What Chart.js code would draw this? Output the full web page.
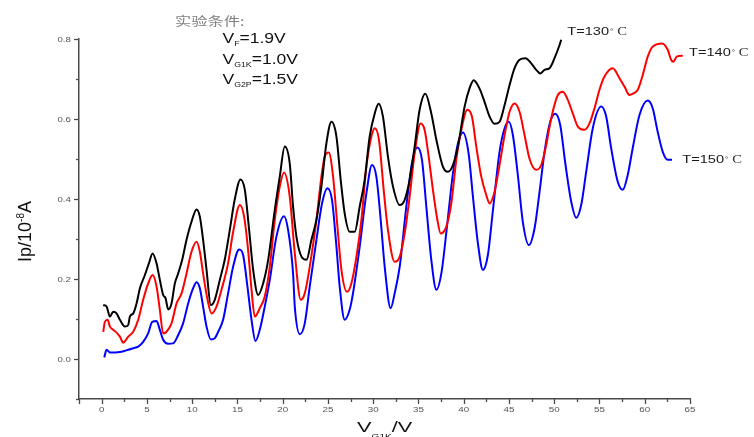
<!DOCTYPE html>
<html>
<head>
<meta charset="utf-8">
<script src="https://cdn.jsdelivr.net/npm/chart.js@4/dist/chart.umd.min.js"></script>
<style>
  html, body { margin: 0; padding: 0; background: #fff; }
  #wrap { width: 754px; height: 437px; }
</style>
</head>
<body>
<div id="wrap"><canvas id="c" width="754" height="437"></canvas></div>
<script>
// Plate current Ip (10^-8 A) against accelerating voltage V_G1K (V), three oven temperatures.
const curve130 = [
  [0.18,0.135],[0.55,0.131],[0.92,0.106],[1.28,0.118],[1.65,0.114],[2.02,0.098],[2.57,0.081],[2.94,0.085],
  [3.12,0.106],[3.49,0.114],[3.86,0.139],[4.23,0.177],[4.78,0.21],[5.22,0.239],[5.63,0.264],[6.07,0.239],
  [6.43,0.198],[6.8,0.16],[7.06,0.152],[7.36,0.124],[7.72,0.139],[8.09,0.189],[8.46,0.214],[8.9,0.248],
  [9.38,0.298],[9.93,0.343],[10.49,0.374],[10.85,0.356],[11.21,0.298],[11.59,0.223],[12.06,0.135],[12.5,0.148],
  [13.06,0.198],[13.6,0.248],[14.16,0.323],[14.7,0.398],[15.34,0.449],[15.82,0.423],[16.26,0.331],[16.74,0.223],
  [17.29,0.16],[17.84,0.189],[18.4,0.248],[19.13,0.373],[19.68,0.456],[20.23,0.531],[20.78,0.489],[21.15,0.381],
  [21.52,0.306],[22.08,0.256],[22.63,0.248],[23.18,0.298],[23.73,0.348],[24.28,0.431],[24.83,0.539],[25.39,0.593],
  [25.94,0.556],[26.41,0.448],[26.85,0.364],[27.4,0.318],[27.96,0.318],[28.51,0.381],[29.06,0.448],[29.61,0.556],
  [30.17,0.614],[30.6,0.638],[31.08,0.606],[31.63,0.506],[32.19,0.431],[32.93,0.385],[33.48,0.398],[34.03,0.448],
  [34.58,0.531],[35.13,0.623],[35.76,0.663],[36.42,0.614],[36.98,0.548],[37.7,0.481],[38.26,0.468],[38.81,0.485],
  [39.36,0.531],[40.1,0.631],[40.65,0.677],[41.1,0.697],[41.75,0.676],[42.3,0.643],[42.86,0.606],[43.41,0.588],
  [43.96,0.593],[44.52,0.635],[45.07,0.685],[45.62,0.727],[46.17,0.748],[46.83,0.752],[47.46,0.739],[48.01,0.723],
  [48.45,0.714],[48.93,0.723],[49.48,0.727],[50.03,0.752],[50.59,0.785],[50.77,0.798]
];
const curve140 = [
  [0.18,0.068],[0.36,0.093],[0.66,0.098],[0.92,0.081],[1.28,0.073],[1.65,0.066],[2.02,0.056],[2.38,0.041],
  [2.94,0.056],[3.49,0.068],[4.04,0.098],[4.59,0.148],[5.14,0.189],[5.63,0.21],[6.07,0.181],[6.43,0.123],
  [6.8,0.064],[7.17,0.068],[7.72,0.089],[8.28,0.139],[8.83,0.164],[9.38,0.214],[9.93,0.268],[10.49,0.293],
  [10.85,0.268],[11.21,0.214],[11.7,0.148],[12.14,0.114],[12.69,0.131],[13.24,0.173],[13.97,0.239],[14.53,0.318],
  [15.27,0.385],[15.74,0.356],[16.18,0.273],[16.56,0.173],[16.92,0.106],[17.47,0.127],[18.02,0.156],[18.58,0.231],
  [19.13,0.348],[19.68,0.431],[20.15,0.466],[20.78,0.406],[21.34,0.264],[22.0,0.148],[22.44,0.164],[22.99,0.231],
  [23.73,0.348],[24.28,0.456],[24.65,0.506],[25.09,0.516],[25.57,0.456],[26.05,0.331],[26.49,0.223],[27.11,0.168],
  [27.59,0.189],[28.15,0.256],[28.7,0.348],[29.25,0.481],[29.8,0.556],[30.17,0.577],[30.64,0.548],[31.16,0.423],
  [31.63,0.323],[32.37,0.243],[32.93,0.256],[33.48,0.314],[34.03,0.406],[34.58,0.514],[35.24,0.589],[35.68,0.573],
  [36.13,0.506],[36.6,0.423],[37.09,0.348],[37.45,0.314],[38.08,0.331],[38.63,0.389],[39.18,0.498],[39.74,0.573],
  [40.4,0.623],[40.91,0.606],[41.39,0.531],[41.94,0.456],[42.49,0.41],[42.86,0.389],[43.41,0.418],[43.96,0.485],
  [44.52,0.56],[45.07,0.618],[45.62,0.639],[46.17,0.618],[46.72,0.56],[47.28,0.5],[48.01,0.473],[48.57,0.485],
  [49.12,0.535],[49.67,0.602],[50.4,0.66],[50.95,0.668],[51.5,0.648],[52.05,0.614],[52.61,0.581],[53.35,0.573],
  [53.9,0.589],[54.45,0.627],[55.0,0.673],[55.55,0.706],[56.47,0.727],[57.21,0.702],[57.76,0.681],[58.31,0.66],
  [58.75,0.664],[59.23,0.673],[59.78,0.71],[60.33,0.756],[60.88,0.781],[61.92,0.789],[62.54,0.773],[62.91,0.748],
  [63.17,0.743],[63.53,0.756],[64.2,0.758]
];
const curve150 = [
  [0.29,0.004],[0.55,0.023],[0.92,0.016],[1.47,0.016],[2.2,0.018],[2.94,0.023],[3.49,0.027],[4.04,0.031],
  [4.59,0.043],[5.14,0.064],[5.59,0.093],[6.07,0.095],[6.43,0.073],[6.8,0.048],[7.36,0.038],[7.9,0.039],
  [8.46,0.06],[9.0,0.089],[9.56,0.139],[10.11,0.177],[10.49,0.192],[10.85,0.177],[11.21,0.131],[11.59,0.081],
  [12.06,0.049],[12.5,0.052],[12.87,0.068],[13.42,0.098],[13.97,0.164],[14.53,0.231],[15.19,0.274],[15.63,0.26],
  [16.11,0.181],[16.56,0.098],[17.0,0.045],[17.47,0.073],[18.02,0.131],[18.58,0.198],[19.31,0.306],[20.15,0.357],
  [20.6,0.323],[21.15,0.214],[21.34,0.131],[21.9,0.062],[22.44,0.089],[22.99,0.181],[23.73,0.298],[24.35,0.389],
  [24.94,0.427],[25.45,0.398],[25.94,0.281],[26.3,0.181],[26.85,0.098],[27.4,0.123],[27.77,0.164],[28.51,0.281],
  [29.25,0.414],[29.87,0.485],[30.35,0.456],[30.83,0.348],[31.27,0.231],[31.93,0.127],[32.37,0.164],[32.93,0.231],
  [33.66,0.381],[34.28,0.489],[34.88,0.529],[35.39,0.498],[35.87,0.381],[36.42,0.248],[36.98,0.173],[37.53,0.214],
  [38.19,0.339],[38.81,0.464],[39.36,0.539],[39.91,0.566],[40.54,0.514],[41.02,0.406],[41.57,0.289],[42.12,0.223],
  [42.67,0.26],[43.22,0.37],[43.96,0.518],[44.52,0.577],[44.99,0.593],[45.43,0.56],[45.98,0.46],[46.53,0.343],
  [47.2,0.285],[47.83,0.327],[48.38,0.418],[48.93,0.518],[49.56,0.593],[50.11,0.613],[50.66,0.585],[51.25,0.485],
  [51.88,0.393],[52.43,0.353],[52.98,0.385],[53.53,0.468],[54.26,0.577],[55.19,0.631],[55.74,0.606],[56.29,0.527],
  [57.02,0.443],[57.57,0.423],[58.12,0.46],[58.67,0.527],[59.42,0.61],[60.33,0.646],[60.88,0.627],[61.43,0.568],
  [61.99,0.518],[62.54,0.498],[63.02,0.498]
];

const seriesNames = ['T=130', 'T=140', 'T=150'];
const seriesColors = ['#000000', '#ff0000', '#0000ff'];
const xTickLabels = [0, 5, 10, 15, 20, 25, 30, 35, 40, 45, 50, 55, 60, 65];
const yTickLabels = [0.0, 0.2, 0.4, 0.6, 0.8];
const conditions = [
  { main: 'V', sub: 'F', rest: '=1.9V' },
  { main: 'V', sub: 'G1K', rest: '=1.0V' },
  { main: 'V', sub: 'G2P', rest: '=1.5V' }
];

const AXIS = '#4a4a4a';
const SANS = "'Liberation Sans', Arial, sans-serif";
const SERIF = "'Liberation Serif', 'Times New Roman', serif";

// draw a text run stretched horizontally by sx; returns the x where it ends
function runText(ctx, str, x, y, font, color, sx) {
  ctx.save();
  ctx.font = font;
  ctx.fillStyle = color;
  ctx.textAlign = 'left';
  ctx.textBaseline = 'alphabetic';
  const w = ctx.measureText(str).width * sx;
  ctx.translate(x, y);
  ctx.scale(sx, 1);
  ctx.fillText(str, 0, 0);
  ctx.restore();
  return x + w;
}
function runWidth(ctx, str, font, sx) {
  ctx.save(); ctx.font = font;
  const w = ctx.measureText(str).width * sx;
  ctx.restore();
  return w;
}

const decorations = {
  id: 'decorations',
  afterDraw(chart) {
    const ctx = chart.ctx;
    const xs = chart.scales.x, ys = chart.scales.y;
    const area = chart.chartArea;

    // tick marks: long on labelled values, short in between
    ctx.save();
    ctx.strokeStyle = AXIS;
    ctx.lineWidth = 1.3;
    xs.ticks.forEach(t => {
      const px = Math.round(xs.getPixelForValue(t.value)) + 0.5;
      const major = xTickLabels.some(v => Math.abs(v - t.value) < 1e-6) || Math.abs(t.value - xs.min) < 1e-6;
      const len = major ? 5 : 3;
      ctx.beginPath(); ctx.moveTo(px, area.bottom); ctx.lineTo(px, area.bottom + len); ctx.stroke();
    });
    ys.ticks.forEach(t => {
      const py = Math.round(ys.getPixelForValue(t.value)) + 0.5;
      const major = yTickLabels.some(v => Math.abs(v - t.value) < 1e-6);
      const len = major ? 5 : 3;
      ctx.beginPath(); ctx.moveTo(area.left, py); ctx.lineTo(area.left - len, py); ctx.stroke();
    });
    ctx.restore();

    // tick labels
    const tickFont = '7px ' + SANS;
    xTickLabels.forEach(v => {
      const s = String(v);
      const w = runWidth(ctx, s, tickFont, 1.4);
      runText(ctx, s, xs.getPixelForValue(v) - w / 2, area.bottom + 13, tickFont, '#555', 1.4);
    });
    yTickLabels.forEach(v => {
      const s = v.toFixed(1);
      const w = runWidth(ctx, s, tickFont, 1.4);
      runText(ctx, s, area.left - 8 - w, ys.getPixelForValue(v) + 2.5, tickFont, '#555', 1.4);
    });

    // y axis title: Ip/10^-8 A
    ctx.save();
    ctx.translate(31, 231.5);
    ctx.rotate(-Math.PI / 2);
    const fBig = '18px ' + SANS, fSup = '10px ' + SANS;
    const total = runWidth(ctx, 'Ip/10', fBig, 1) + runWidth(ctx, '-8', fSup, 1) + runWidth(ctx, 'A', fBig, 1);
    let cx = -total / 2;
    cx = runText(ctx, 'Ip/10', cx, 0, fBig, '#111', 1);
    cx = runText(ctx, '-8', cx, -7, fSup, '#111', 1);
    runText(ctx, 'A', cx, 0, fBig, '#111', 1);
    ctx.restore();

    // x axis title: V_G1K / V
    const fX = '15px ' + SANS, fXs = '7px ' + SANS;
    let xx = 357;
    xx = runText(ctx, 'V', xx, 432, fX, '#111', 1.45);
    xx = runText(ctx, 'G1K', xx, 438.5, fXs, '#111', 1.45);
    runText(ctx, '/V', xx, 432, fX, '#111', 1.45);

    // experiment conditions
    runText(ctx, '实验条件:', 175, 25.5, "12.5px 'Noto Sans CJK SC'", '#808080', 1.3);
    const fC = '14px ' + SANS, fCs = '7px ' + SANS;
    const baselines = [43.3, 64.3, 84.3];
    conditions.forEach((c, i) => {
      let x = 222.5;
      x = runText(ctx, c.main, x, baselines[i], fC, '#111', 1.25);
      x = runText(ctx, c.sub, x, baselines[i] + 3, fCs, '#111', 1.25);
      runText(ctx, c.rest, x, baselines[i], fC, '#111', 1.25);
    });

    // curve labels
    const labelPos = [[567.3, 35], [689, 56], [682.3, 162.7]];
    const fT = '11.5px ' + SANS, fDeg = '7px ' + SANS, fSer = '11.5px ' + SERIF;
    seriesNames.forEach((name, i) => {
      let [x, y] = labelPos[i];
      x = runText(ctx, name, x, y, fT, '#1a1a1a', 1.27);
      x = runText(ctx, '°', x + 1, y - 1, fDeg, '#333', 1.2);
      runText(ctx, ' C', x, y, fSer, '#333', 1.27);
    });
  }
};

const toPoints = arr => arr.map(([v, ip]) => ({ x: v, y: ip }));

new Chart(document.getElementById('c'), {
  type: 'line',
  data: {
    datasets: [curve130, curve140, curve150].map((arr, i) => ({
      label: seriesNames[i],
      data: toPoints(arr),
      borderColor: seriesColors[i],
      backgroundColor: seriesColors[i],
      borderWidth: 2,
      pointRadius: 0,
      cubicInterpolationMode: 'monotone',
      fill: false,
      clip: false
    }))
  },
  options: {
    responsive: false,
    animation: false,
    devicePixelRatio: 1,
    layout: { padding: { top: 39, right: 64, left: 0, bottom: 0 } },
    plugins: { legend: { display: false }, tooltip: { enabled: false } },
    scales: {
      x: {
        type: 'linear',
        min: -2.5, max: 65,
        ticks: { stepSize: 2.5, display: false },
        grid: { drawOnChartArea: false, drawTicks: false },
        border: { color: AXIS, width: 1.5 },
        afterFit(s) { s.height = 38; }
      },
      y: {
        type: 'linear',
        min: -0.1, max: 0.8,
        ticks: { stepSize: 0.1, display: false },
        grid: { drawOnChartArea: false, drawTicks: false },
        border: { color: AXIS, width: 1.5 },
        afterFit(s) { s.width = 79; }
      }
    }
  },
  plugins: [decorations]
});
</script>
</body>
</html>
